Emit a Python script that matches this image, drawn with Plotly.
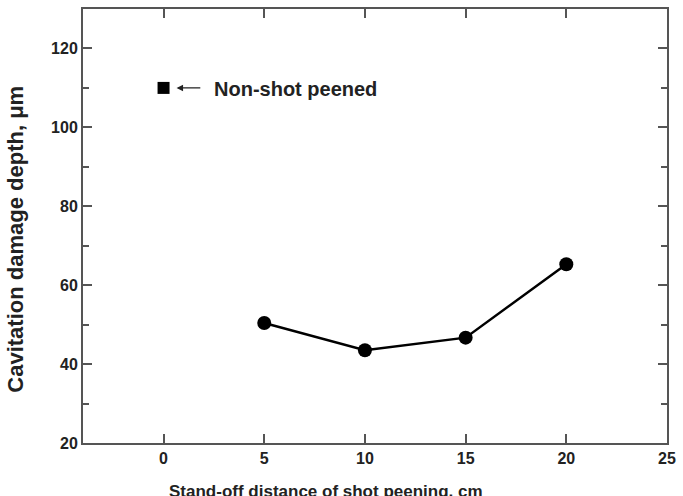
import plotly.graph_objects as go

distance = [5, 10, 15, 20]
depth = [50.4, 43.5, 46.7, 65.3]
ref_x = [0]
ref_y = [110]
x_ticks = [0, 5, 10, 15, 20, 25]
y_ticks = [20, 40, 60, 80, 100, 120]
y_minor = [30, 50, 70, 90, 110, 130]

FONT = "Liberation Sans, Arial, sans-serif"

fig = go.Figure()
fig.add_trace(go.Scatter(x=distance, y=depth, mode="lines+markers",
                         line=dict(color="black", width=2.5),
                         marker=dict(symbol="circle", size=14, color="black"),
                         showlegend=False))
fig.add_trace(go.Scatter(x=ref_x, y=ref_y, mode="markers",
                         marker=dict(symbol="square", size=12, color="black"),
                         showlegend=False))

axis_common = dict(showline=True, linecolor="#555", linewidth=2, mirror="ticks",
                   ticks="inside", tickcolor="#555", tickwidth=2, ticklen=9,
                   showgrid=False, zeroline=False,
                   tickfont=dict(family=FONT, size=16, color="#222", weight="bold"))

fig.update_xaxes(range=[-4, 25], tickvals=x_ticks, **axis_common)
fig.update_yaxes(range=[20, 130], tickvals=y_ticks,
                 minor=dict(tickvals=y_minor, ticks="inside",
                            ticklen=6, tickwidth=2, tickcolor="#555"),
                 **axis_common)

# arrow to the non-shot peened point
fig.add_annotation(x=ref_x[0], y=ref_y[0], ax=1.9, ay=ref_y[0], axref="x", ayref="y",
                   xref="x", yref="y", text="", showarrow=True, arrowhead=2,
                   arrowsize=1, arrowwidth=1.3, arrowcolor="#222", standoff=13)
fig.add_annotation(x=2.4, y=ref_y[0], xref="x", yref="y", text="<b>Non-shot peened</b>",
                   showarrow=False, xanchor="left", yanchor="middle", yshift=-1,
                   font=dict(family=FONT, size=20, color="#222"))

fig.add_annotation(x=-0.117, y=0.47, xref="paper", yref="paper", textangle=-90,
                   xanchor="center", yanchor="middle",
                   text="<b>Cavitation damage depth, μm</b>", showarrow=False,
                   font=dict(family=FONT, size=22, color="#222"))
fig.add_annotation(x=0.416, y=-0.085, xref="paper", yref="paper", yanchor="top",
                   xanchor="center",
                   text="<b>Stand-off distance of shot peening, cm</b>", showarrow=False,
                   font=dict(family=FONT, size=17, color="#222"))

fig.update_layout(width=683, height=496, margin=dict(l=83, r=10, t=7, b=53),
                  plot_bgcolor="white", paper_bgcolor="white")

fig.write_html("out.html")
